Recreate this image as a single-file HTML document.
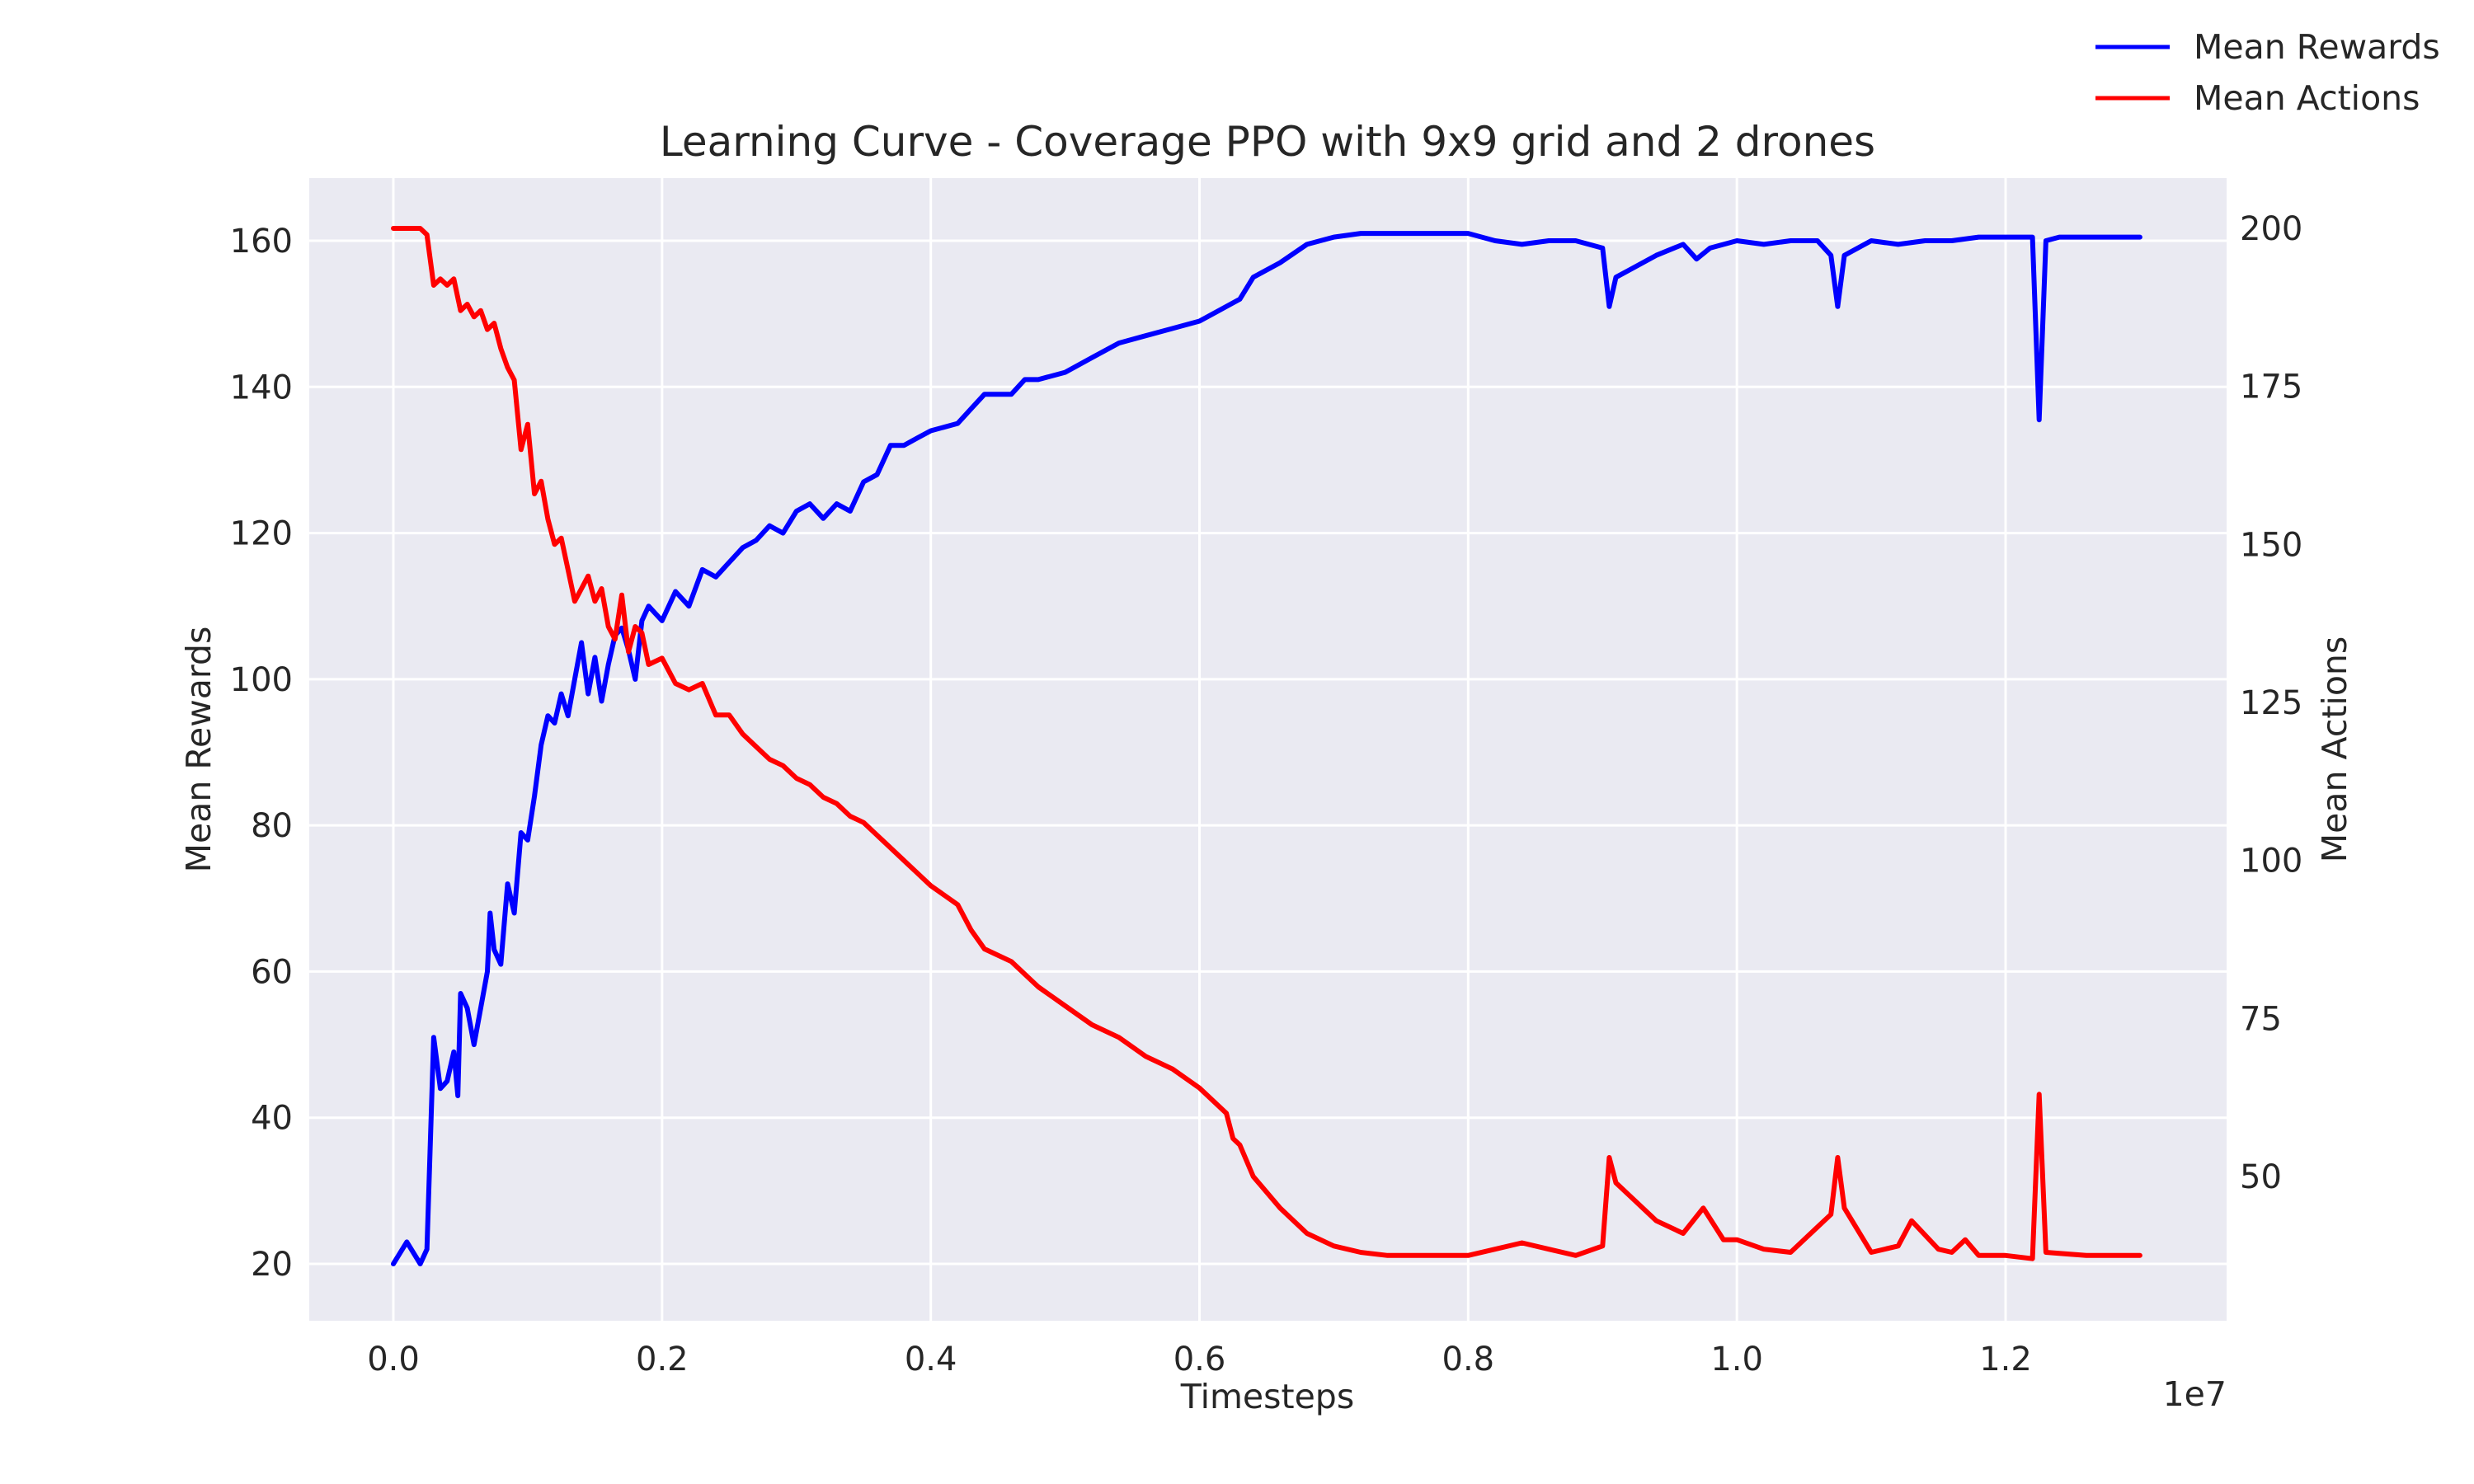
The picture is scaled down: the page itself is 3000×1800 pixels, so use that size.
<!DOCTYPE html>
<html><head><meta charset="utf-8"><style>
html,body{margin:0;padding:0;background:#fff;}
svg{display:block;font-family:"DejaVu Sans","Liberation Sans",sans-serif;}
</style></head><body>
<svg id="chart" width="3000" height="1800" viewBox="0 0 3000 1800" xmlns="http://www.w3.org/2000/svg">
<rect x="375" y="216" width="2325" height="1386" fill="#eaeaf2"/>
<g id="grid"></g>
<g id="series"></g>
<g id="axes"></g>
<text x="1537" y="189" font-size="50" fill="#262626" text-anchor="middle">Learning Curve - Coverage PPO with 9x9 grid and 2 drones</text>
<text x="1537" y="1708" font-size="41" fill="#262626" text-anchor="middle">Timesteps</text>
<text x="2700" y="1705" font-size="41" fill="#262626" text-anchor="end">1e7</text>
<text x="0" y="0" font-size="41" fill="#262626" text-anchor="middle" transform="translate(255,909) rotate(-90)">Mean Rewards</text>
<text x="0" y="0" font-size="41" fill="#262626" text-anchor="middle" transform="translate(2845,909) rotate(-90)">Mean Actions</text>
<g>
<line x1="2541" y1="57" x2="2631" y2="57" stroke="#0000ff" stroke-width="5"/>
<text x="2660" y="71" font-size="41" fill="#262626">Mean Rewards</text>
<line x1="2541" y1="119" x2="2631" y2="119" stroke="#ff0000" stroke-width="5"/>
<text x="2660" y="133" font-size="41" fill="#262626">Mean Actions</text>
</g>
</svg>
<script>
const xTicks=[0,0.2,0.4,0.6,0.8,1.0,1.2];
const xTickLabels=["0.0","0.2","0.4","0.6","0.8","1.0","1.2"];
const leftTicks=[20,40,60,80,100,120,140,160];
const rightTicks=[50,75,100,125,150,175,200];
const rewardT=[0,0.01,0.02,0.025,0.03,0.035,0.04,0.045,0.048,0.05,0.055,0.06,0.065,0.07,0.072,0.075,0.08,0.085,0.09,0.095,0.1,0.105,0.11,0.115,0.12,0.125,0.13,0.135,0.14,0.145,0.15,0.155,0.16,0.165,0.17,0.175,0.18,0.185,0.19,0.2,0.21,0.22,0.23,0.24,0.25,0.26,0.27,0.28,0.29,0.30,0.31,0.32,0.33,0.34,0.35,0.36,0.37,0.38,0.39,0.40,0.42,0.43,0.44,0.46,0.47,0.48,0.50,0.52,0.54,0.56,0.58,0.60,0.62,0.63,0.64,0.66,0.68,0.70,0.72,0.74,0.76,0.78,0.80,0.82,0.84,0.86,0.88,0.90,0.905,0.91,0.92,0.94,0.96,0.97,0.98,1.0,1.02,1.04,1.06,1.07,1.075,1.08,1.10,1.12,1.14,1.16,1.18,1.2,1.22,1.225,1.23,1.24,1.26,1.28,1.30];
const rewardV=[20,23,20,22,51,44,45,49,43,57,55,50,55,60,68,63,61,72,68,79,78,84,91,95,94,98,95,100,105,98,103,97,102,106,107,104,100,108,110,108,112,110,115,114,116,118,119,121,120,123,124,122,124,123,127,128,132,132,133,134,135,137,139,139,141,141,142,144,146,147,148,149,151,152,155,157,159.5,160.5,161,161,161,161,161,160,159.5,160,160,159,151,155,156,158,159.5,157.5,159,160,159.5,160,160,158,151,158,160,159.5,160,160,160.5,160.5,160.5,135.5,160,160.5,160.5,160.5,160.5];
const actionT=[0,0.01,0.02,0.025,0.03,0.035,0.04,0.045,0.05,0.055,0.06,0.065,0.07,0.075,0.08,0.085,0.09,0.095,0.1,0.105,0.11,0.115,0.12,0.125,0.13,0.135,0.14,0.145,0.15,0.155,0.16,0.165,0.17,0.175,0.18,0.185,0.19,0.2,0.21,0.22,0.23,0.24,0.25,0.26,0.27,0.28,0.29,0.30,0.31,0.32,0.33,0.34,0.35,0.36,0.37,0.38,0.39,0.40,0.42,0.43,0.44,0.46,0.48,0.50,0.52,0.54,0.56,0.58,0.60,0.62,0.625,0.63,0.64,0.66,0.68,0.70,0.72,0.74,0.76,0.78,0.80,0.82,0.84,0.86,0.88,0.90,0.905,0.91,0.92,0.94,0.96,0.975,0.99,1.0,1.02,1.04,1.06,1.07,1.075,1.08,1.10,1.12,1.13,1.15,1.16,1.17,1.18,1.20,1.22,1.225,1.23,1.26,1.30];
const actionV=[200,200,200,199,191,192,191,192,187,188,186,187,184,185,181,178,176,165,169,158,160,154,150,151,146,141,143,145,141,143,137,135,142,133,137,136,131,132,128,127,128,123,123,120,118,116,115,113,112,110,109,107,106,104,102,100,98,96,93,89,86,84,80,77,74,72,69,67,64,60,56,55,50,45,41,39,38,37.5,37.5,37.5,37.5,38.5,39.5,38.5,37.5,39,53,49,47,43,41,45,40,40,38.5,38,42,44,53,45,38,39,43,38.5,38,40,37.5,37.5,37,63,38,37.5,37.5];
const L=375,R=2700,T=216,B=1602;
const X=t=>477+t*(2432-477)/1.2;
const YL=v=>1533-(v-20)*(1533-292)/140;
const YR=v=>1427-(v-50)*(1427-277)/150;
const ns="http://www.w3.org/2000/svg";
function mk(tag,attrs,parent){const e=document.createElementNS(ns,tag);for(const k in attrs)e.setAttribute(k,attrs[k]);parent.appendChild(e);return e;}
const grid=document.getElementById('grid'),axes=document.getElementById('axes'),series=document.getElementById('series');
xTicks.forEach((t,i)=>{
 const g=mk('line',{x1:X(t),x2:X(t),y1:T,y2:B,stroke:'#fff','stroke-width':3},grid);
 
 
 const l=mk('text',{x:X(t),y:B+60,'font-size':40,fill:'#262626','text-anchor':'middle'},axes);
 l.textContent=xTickLabels[i];
 
 
});
leftTicks.forEach(v=>{
 const g=mk('line',{x1:L,x2:R,y1:YL(v),y2:YL(v),stroke:'#fff','stroke-width':3},grid);
 
 
 const l=mk('text',{x:L-20,y:YL(v)+14,'font-size':40,fill:'#262626','text-anchor':'end'},axes);
 l.textContent=v;
 
 
});
rightTicks.forEach(v=>{
 const l=mk('text',{x:R+16,y:YR(v)+14,'font-size':40,fill:'#262626','text-anchor':'start'},axes);
 l.textContent=v;
 
 
});
const pr=mk('path',{d:rewardT.map((t,i)=>(i?'L':'M')+X(t).toFixed(1)+','+YL(rewardV[i]).toFixed(1)).join(''),fill:'none',stroke:'#0000ff','stroke-width':6,'stroke-linejoin':'round','stroke-linecap':'round'},series);


const pa=mk('path',{d:actionT.map((t,i)=>(i?'L':'M')+X(t).toFixed(1)+','+YR(actionV[i]).toFixed(1)).join(''),fill:'none',stroke:'#ff0000','stroke-width':6,'stroke-linejoin':'round','stroke-linecap':'round'},series);


</script>
</body></html>
